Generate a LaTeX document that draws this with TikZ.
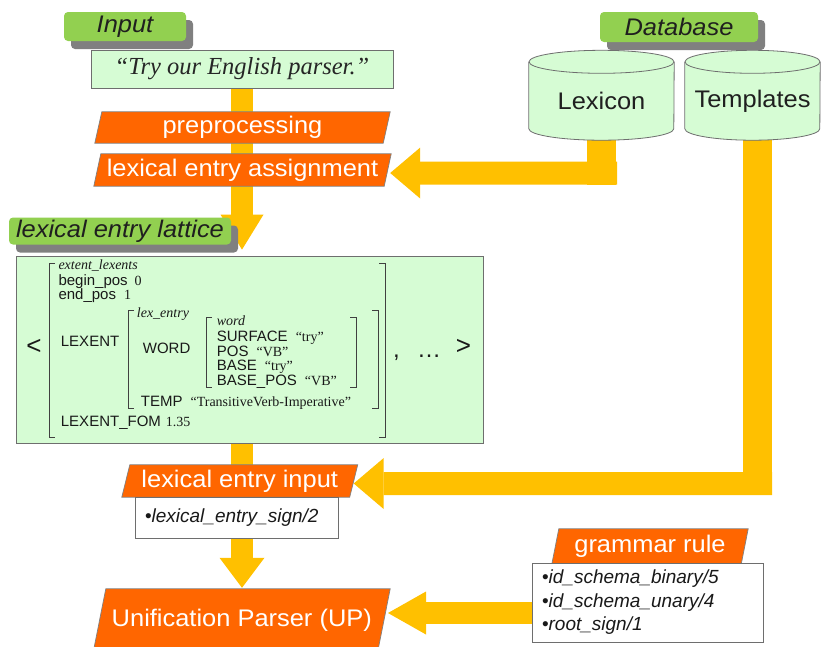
\documentclass[tikz,border=0pt]{standalone}
\usepackage{fontspec}
\setmainfont{Liberation Serif}
\setsansfont{Liberation Sans}
\newfontfamily\lblfont[FakeStretch=1.06]{Liberation Sans}
\usetikzlibrary{shadows,arrows.meta,calc}
\definecolor{orng}{RGB}{255,102,0}
\definecolor{yel}{RGB}{255,192,0}
\definecolor{grn}{RGB}{146,208,80}
\definecolor{mint}{RGB}{214,252,212}
\definecolor{shgray}{RGB}{128,128,128}
\definecolor{bord}{RGB}{110,110,110}
\pgfdeclarelayer{arrowlayer}
\pgfdeclarelayer{shapelayer}
\pgfsetlayers{arrowlayer,shapelayer,main}
\newcommand\myfs[1]{\fontsize{#1}{#1}\selectfont}
\newcommand\val[1]{{\rmfamily\myfs{14}#1}}
\newcommand\drawcyl[2]{%
 \fill[mint] (#1.north west) rectangle ([yshift=11.5pt]#1.south east);
 \fill[mint] ([yshift=11.5pt]#1.south) ellipse [x radius=#2pt, y radius=11.5pt];
 \draw[bord, line width=0.8pt] (#1.north west) -- ([yshift=11.5pt]#1.south west) arc[start angle=180, end angle=360, x radius=#2pt, y radius=11.5pt] -- (#1.north east);
 \filldraw[fill=mint, draw=bord, line width=0.8pt] (#1.north) ellipse [x radius=#2pt, y radius=11.5pt];
}
\tikzset{
 greenlabel/.style={fill=grn, rounded corners=4pt, inner sep=0pt, text=black!88, font=\lblfont\itshape\myfs{24}, drop shadow={shadow xshift=7pt,shadow yshift=-8pt,opacity=1,fill=shgray}},
 mintbox/.style={fill=mint, draw=bord, line width=0.8pt, inner sep=0pt},
 orangelbl/.style={inner sep=0pt, text=white, font=\lblfont\myfs{24}},
 listbox/.style={fill=white, draw=bord, line width=0.8pt, inner ysep=0pt, inner xsep=10pt, align=left, font=\sffamily\itshape\fontsize{19}{23.5}\selectfont, text=black!90},
 cyltext/.style={inner sep=0pt, font=\lblfont\myfs{24}, text=black!88},
 yshaft/.style={color=yel, line width=23pt},
 yhead/.style 2 args={-{Triangle[width=#1pt,length=#2pt,line width=0pt]}},
 feat/.style={anchor=base west, inner sep=0pt, font=\sffamily\myfs{15}, text=black!90},
 typ/.style={feat, font=\rmfamily\itshape\myfs{14}},
 brk/.style={draw=black!75, line width=1pt},
 orangefill/.style={fill=orng, draw=black!50, line width=0.7pt},
}
\begin{document}
\begin{tikzpicture}[x=1pt,y=-1pt]
\begin{pgfonlayer}{arrowlayer}\fill[white] (0,0) rectangle (821,646);\end{pgfonlayer}
\useasboundingbox (0,0) rectangle (821,646);

% labels
\node[greenlabel, minimum width=122pt, minimum height=29pt] (inp) at (125,26.5) {Input};
\node[greenlabel, minimum width=158pt, minimum height=30pt] (db) at (679,27) {Database};
\node[greenlabel, minimum width=222pt, minimum height=27pt] (latlbl) at (120,231) {lexical entry lattice};

% boxes
\node[mintbox, minimum width=302pt, minimum height=38pt, font=\rmfamily\itshape\myfs{24.5}, text=black!85] (sent) at (242,69) {“Try our English parser.”};
\node[orangelbl, minimum width=288pt, minimum height=31pt] (pre) at (242.5,127.5) {preprocessing};
\node[orangelbl, minimum width=290pt, minimum height=32pt] (lea) at (242.5,170) {lexical entry assignment};
\node[cyltext, minimum width=145pt, minimum height=78pt] (lex) at (601.5,101) {Lexicon};
\node[cyltext, minimum width=135pt, minimum height=78pt] (tmp) at (752.5,101) {Templates};
\node[mintbox, minimum width=467pt, minimum height=187pt] (latbox) at (249.5,349.5) {};
\node[orangelbl, minimum width=227.5pt, minimum height=32pt] (lei) at (239.75,481) {lexical entry input};
\node[listbox, minimum width=203pt, minimum height=41pt, text width=183pt] (sgn) at (236.5,517.5) {{\upshape•}lexical\_entry\_sign/2};
\node[orangelbl, minimum width=189pt, minimum height=35pt] (grl) at (650,546.5) {grammar rule};
\node[listbox, minimum width=231pt, minimum height=79pt, text width=211pt] (grlist) at (647.5,602.5) {{\upshape•}id\_schema\_binary/5\\{\upshape•}id\_schema\_unary/4\\{\upshape•}root\_sign/1};
\node[orangelbl, minimum width=284pt, minimum height=62pt] (up) at (241.8,620) {Unification Parser (UP)};

% shapes behind texts
\begin{pgfonlayer}{shapelayer}
\foreach \n/\s in {pre/3.5,lea/3.5,lei/4,grl/3.5,up/6.2}{
 \filldraw[orangefill] ([xshift=\s pt]\n.north west) -- ([xshift=\s pt]\n.north east) -- ([xshift=-\s pt]\n.south east) -- ([xshift=-\s pt]\n.south west) -- cycle;
}
\drawcyl{lex}{72.5}
\drawcyl{tmp}{67.5}
\end{pgfonlayer}

% block arrows
\begin{pgfonlayer}{arrowlayer}
\draw[yshaft, line width=22pt, yhead={43}{35}] (sent.south) -- ($(sent.south |- latbox.north)+(0,-6)$);
\draw[yshaft, line width=22pt] (sent.south |- latbox.south) -- (sent.south |- lei.north);
\draw[yshaft, line width=22pt, yhead={45}{30}] (sent.south |- sgn.south) -- ($(sent.south |- up.north)+(0,-1)$);
\coordinate (lexc) at ($(lex.south)+(0,33)$);
\draw[yshaft, line width=29pt] ([yshift=10pt]lex.south) -- ($(lexc)+(0,11.5)$);
\draw[yshaft, yhead={51}{30}] ($(lexc)+(15.5,0)$) -- ($(lea.east)+(2.5,3)$);
\coordinate (tmpc) at ($(tmp.south)+(5,343.5)$);
\draw[yshaft, line width=29pt] ([xshift=5pt,yshift=10pt]tmp.south) -- ($(tmpc)+(0,11.5)$);
\draw[yshaft, yhead={51}{30}] ($(tmpc)+(14.5,0)$) -- ($(lei.east)+(0,2.5)$);
\draw[yshaft, line width=22pt, yhead={43}{38}] ($(grlist.west)+(3,10.5)$) -- ($(up.east)+(4,-7)$);
\end{pgfonlayer}

% lattice contents
\draw[brk] (55,263) -- (49.5,263) -- (49.5,437) -- (55,437);
\draw[brk] (379,263) -- (385,263) -- (385,437) -- (379,437);
\draw[brk] (134,310) -- (128.5,310) -- (128.5,408) -- (134,408);
\draw[brk] (372,310) -- (378,310) -- (378,408) -- (372,408);
\draw[brk] (212,317) -- (206.5,317) -- (206.5,387) -- (212,387);
\draw[brk] (350,317) -- (356,317) -- (356,387) -- (350,387);
\node[typ] (l1) at (58.3,269) {extent\_lexents};
\node[feat] (l2) at (58.3,285) {begin\_pos\hspace{7pt}\val{0}};
\node[feat] (l3) at (58.3,299.5) {end\_pos\hspace{8pt}\val{1}};
\node[feat] (l4) at (60.7,346) {LEXENT};
\node[typ] (l5) at (136.7,317) {lex\_entry};
\node[feat] (l6) at (142.7,353) {WORD};
\node[typ] (l7) at (216.7,325) {word};
\node[feat] (l8) at (216.7,341.7) {SURFACE\hspace{8pt}\val{“try”}};
\node[feat] (l9) at (216.7,356) {POS\hspace{8pt}\val{“VB”}};
\node[feat] (l10) at (216.7,370.7) {BASE\hspace{8pt}\val{“try”}};
\node[feat] (l11) at (216.7,385.3) {BASE\_POS\hspace{8pt}\val{“VB”}};
\node[feat] (l12) at (140.7,406.7) {TEMP\hspace{8pt}\val{“TransitiveVerb-Imperative”}};
\node[feat] (l13) at (60.7,426.7) {LEXENT\_FOM\hspace{5pt}\val{1.35}};
\node[inner sep=0pt, font=\sffamily\myfs{26}, text=black!90] (lt) at (34,347) {<};
\node[inner sep=0pt, font=\sffamily\myfs{26}, text=black!90] (gt) at (463.5,347) {>};
\node[feat, font=\sffamily\myfs{24}] (cm) at (393,357) {,};
\node[feat, font=\sffamily\myfs{24}] (dots) at (417,357) {…};
\end{tikzpicture}
\end{document}
